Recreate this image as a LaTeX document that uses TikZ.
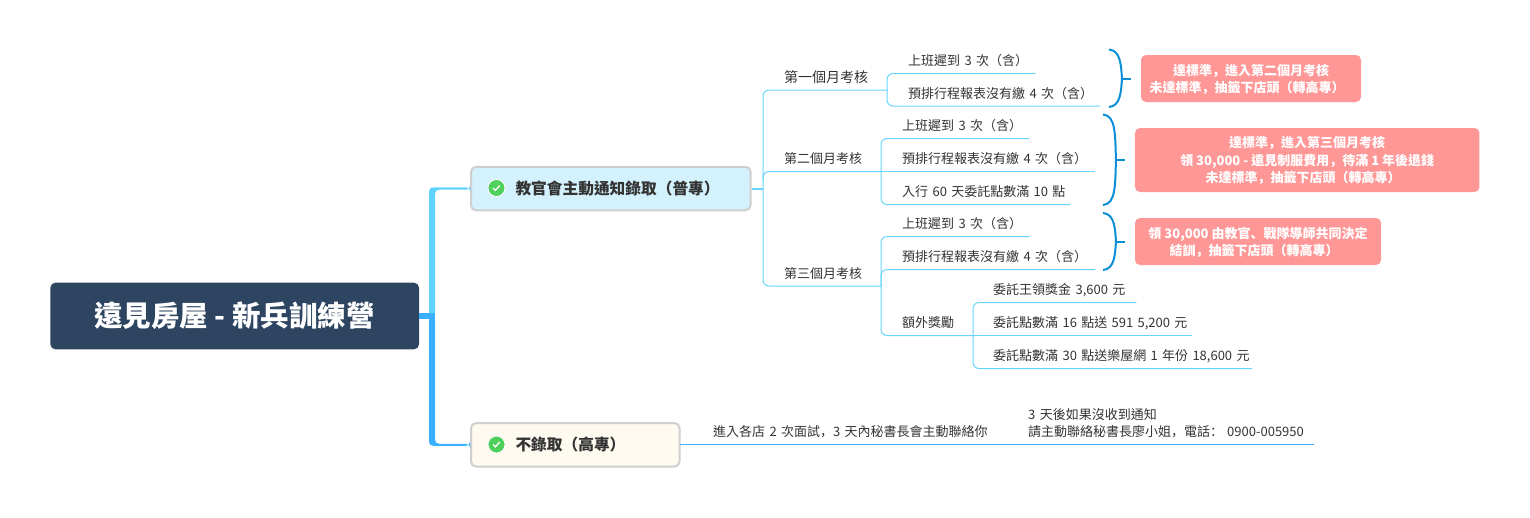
\documentclass[tikz,border=0pt]{standalone}
\usepackage{fontspec}
\setmainfont{Noto Sans CJK TC}
\newfontfamily\punctfont{Noto Sans CJK SC}
\newcommand{\pn}[1]{{\punctfont #1}}
\newcommand{\topicinset}{21pt}
\usetikzlibrary{calc,positioning}
\definecolor{rootblue}{HTML}{2D4560}
\definecolor{trunklight}{HTML}{5FD2FF}
\definecolor{trunkdeep}{HTML}{38B0FF}
\definecolor{twig}{HTML}{66D4FF}
\definecolor{tallyblue}{HTML}{0A8FD6}
\definecolor{boxgrey}{HTML}{CFCFCF}
\definecolor{admitfill}{HTML}{D4F2FD}
\definecolor{rejectfill}{HTML}{FEFAF0}
\definecolor{summred}{HTML}{FF9797}
\definecolor{okgreen}{HTML}{4FD05A}
\definecolor{inktext}{HTML}{333333}
\tikzset{
  rootbox/.style={
    rectangle,
    rounded corners=5pt,
    fill=rootblue,
    text=white,
    inner sep=0pt,
    minimum width=368.7pt,
    minimum height=66.6pt,
    font=\fontsize{28.5}{32}\selectfont\bfseries},
  branch/.style={
    rectangle,
    rounded corners=5pt,
    draw=boxgrey, line width=2pt,
    anchor=west,
    inner sep=0pt,
    text width=#1pt,
    minimum height=43.5pt,
    text=inktext,
    execute at begin node={\hspace*{44.5pt}},
    font=\fontsize{15.7}{20}\selectfont\bfseries},
  inset/.code={\renewcommand{\topicinset}{#1}},
  topic/.style={
    anchor=south west,
    inner xsep=0pt, inner ysep=7.5pt,
    text width=#1pt,
    text depth=0pt,
    text=inktext,
    execute at begin node={\hspace*{\topicinset}},
    font=\fontsize{13}{17}\selectfont},
  summary/.style={
    rectangle,
    rounded corners=5pt,
    fill=summred,
    text=white,
    inner sep=0pt,
    align=center,
    text height=#1pt,
    text depth=0pt,
    font=\fontsize{13}{17.5}\selectfont\bfseries},
  okmark/.style={
    circle,
    fill=okgreen,
    draw=white, line width=0.8pt,
    inner sep=0pt,
    minimum size=17pt,
    path picture={\draw[white, line width=1.3pt]
      (path picture bounding box.center) ++(-3.4,0) -- ++(2.2,2.4) -- ++(4.4,-4.8);}},
  twigline/.style={draw=twig, line width=1pt, rounded corners=6pt},
  tally/.style={draw=tallyblue, line width=2pt},
}

\begin{document}
\begin{tikzpicture}[x=1pt,y=-1pt]
	\useasboundingbox (0,0) rectangle (1530,517);

	% centre and the two branches
	\node[rootbox] (root) at (234.7,316) {遠見房屋 - 新兵訓練營};
	\node[branch=279.5, fill=admitfill] (admit) at (470,188.5) {教官會主動通知錄取（普專）};
	\node[branch=208.5, fill=rejectfill] (reject) at (470,444.8) {不錄取（高專）};
	\node[okmark] (okadmit) at (496.5,188) {};
	\node[okmark] (okreject) at (496.5,444.5) {};
	\coordinate (hub) at (432,316);

	% months
	\node[topic=124, font=\fontsize{14}{17}\selectfont] (month1) at (763,90) {第一個月考核};
	\node[topic=118] (month2) at (763,171.5) {第二個月考核};
	\node[topic=118] (month3) at (763,286) {第三個月考核};

	\node[topic=148] (m1late) at (887,73.5) {上班遲到 3 次（含）};
	\node[topic=213] (m1form) at (887,106) {預排行程報表沒有繳 4 次（含）};

	\node[topic=148] (m2late) at (881,138.5) {上班遲到 3 次（含）};
	\node[topic=214] (m2form) at (881,171.5) {預排行程報表沒有繳 4 次（含）};
	\node[topic=189] (m2points) at (881,204.5) {入行 60 天委託點數滿 10 點};

	\node[topic=148] (m3late) at (881,236.5) {上班遲到 3 次（含）};
	\node[topic=214] (m3form) at (881,269.5) {預排行程報表沒有繳 4 次（含）};
	\node[topic=92] (m3extra) at (881,335.5) {額外獎勵};

	\node[topic=163, inset=20pt] (bonus1) at (973,302.5) {委託王領獎金 3,600 元};
	\node[topic=219, inset=20pt] (bonus2) at (973,335.5) {委託點數滿 16 點送 591 5,200 元};
	\node[topic=279, inset=20pt] (bonus3) at (973,368.5) {委託點數滿 30 點送樂屋網 1 年份 18,600 元};

	% reject side
	\node[topic=348, inset=33pt] (visit) at (680,444) {進入各店 2 次面試\pn{，}3 天內秘書長會主動聯絡你};
	\node[topic=286, inset=0pt, text depth=17pt] (notice) at (1028,444) {3 天後如果沒收到通知\\請主動聯絡秘書長廖小姐\pn{，}電話\pn{：}\hspace{4pt}0900-005950};

	% summaries
	\node[summary=28.6, minimum width=220pt, minimum height=47pt] (summ1) at (1251,78.5) {達標準\pn{，}進入第二個月考核\\未達標準\pn{，}抽籤下店頭（轉高專）\hspace*{8pt}};
	\node[summary=45, minimum width=344.5pt, minimum height=64pt] (summ2) at (1307.2,160) {達標準\pn{，}進入第三個月考核\\領 30,000 - 遠見制服費用\pn{，}待滿 1 年後退錢\\未達標準\pn{，}抽籤下店頭（轉高專）\hspace*{8pt}};
	\node[summary=28, minimum width=246pt, minimum height=47pt] (summ3) at (1258,241.5) {領 30,000 由教官\pn{、}戰隊導師共同決定\\結訓\pn{，}抽籤下店頭（轉高專）\hspace*{8pt}};

	% thick trunk
	\fill[trunklight, rounded corners=4pt] ($(hub)+(-3,0)$) |- ($(admit.west)+(0,-1.2)$) -- ++(0,2.4) -| ($(hub)+(3,0)$) -- cycle;
	\fill[trunkdeep, rounded corners=4pt] ($(hub)+(-3,0)$) |- ($(reject.west)+(0,1)$) -- ++(0,-2) -| ($(hub)+(3,0)$) -- cycle;
	\draw[trunkdeep, line width=5.6pt] (root.east) -- ($(hub)+(3,0)$);

	% thin connectors
	\draw[twig, line width=2pt] (admit.east) -- (admit.east -| month1.south west);
	\draw[twigline] (month1.south east) -- (month1.south west) -- (month3.south west) -- (month3.south east);
	\draw[twigline] (month3.south west) ++(0,-105) -- ++(0,-9.5) -- (month2.south east);

	\draw[twigline] (m1late.south east) -- (m1late.south west) -- (m1form.south west) -- (m1form.south east);

	\draw[twigline] (m2late.south east) -- (m2late.south west) -- (m2points.south west) -- (m2points.south east);
	\draw[twigline] (m2form.south west) -- (m2form.south east);

	\draw[twigline] (m3late.south east) -- (m3late.south west) -- (m3extra.south west) -- (m3extra.south east);
	\draw[twigline] (m3form.south east) -- (m3form.south west) -- ++(0,16.5);

	\draw[twigline] (bonus1.south east) -- (bonus1.south west) -- (bonus3.south west) -- (bonus3.south east);
	\draw[twigline] (bonus2.south west) -- (bonus2.south east);

	\draw[trunkdeep, line width=1pt] (visit.south west) -- (notice.south east);

	% right brackets
	\coordinate (tally1a) at (1109,49.5);
	\coordinate (tally1m) at (1122,78.5);
	\coordinate (tally1b) at (1109,107);
	\coordinate (tally2a) at (1103,114.5);
	\coordinate (tally2m) at (1116,160);
	\coordinate (tally2b) at (1103,205);
	\coordinate (tally3a) at (1103,213);
	\coordinate (tally3m) at (1116,241.5);
	\coordinate (tally3b) at (1103,270);

	\draw[tally] (tally1a) .. controls +(12,1) and +(-1,-12) .. (tally1m) .. controls +(-1,12) and +(12,-1) .. (tally1b);
	\draw[tally] (tally2a) .. controls +(13,1) and +(-1,-25) .. (tally2m) .. controls +(-1,25) and +(13,-1) .. (tally2b);
	\draw[tally] (tally3a) .. controls +(12,1) and +(-1,-12) .. (tally3m) .. controls +(-1,12) and +(12,-1) .. (tally3b);
	\draw[tally, shorten >=10pt] (tally1m) -- (summ1.west);
	\draw[tally, shorten >=10pt] (tally2m) -- (summ2.west);
	\draw[tally, shorten >=10pt] (tally3m) -- (summ3.west);

\end{tikzpicture}
\end{document}
